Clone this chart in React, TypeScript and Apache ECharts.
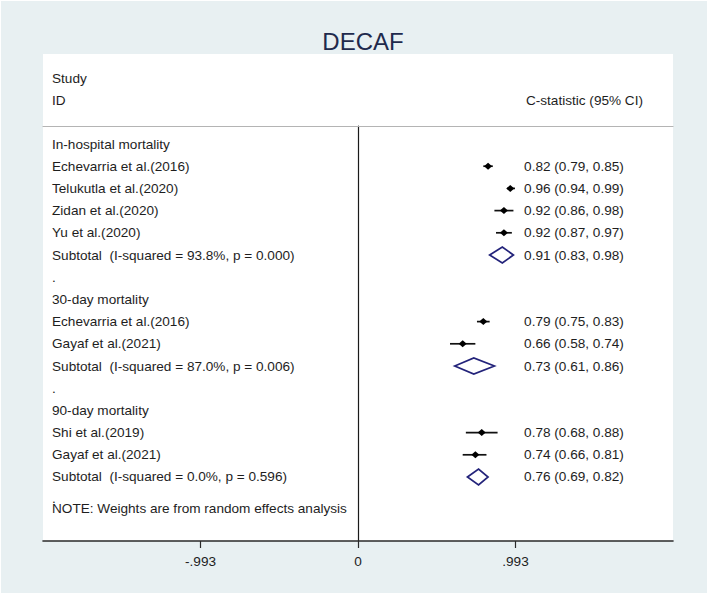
import React, { useEffect, useRef } from "react";
import * as echarts from "echarts";

// ---------- data ----------
const groupNames = ["In-hospital mortality", "30-day mortality", "90-day mortality"];
const groupRows = [1, 8, 13];

const studyNames = [
  "Echevarria et al.(2016)",
  "Telukutla et al.(2020)",
  "Zidan et al.(2020)",
  "Yu et al.(2020)",
  "Echevarria et al.(2016)",
  "Gayaf et al.(2021)",
  "Shi et al.(2019)",
  "Gayaf et al.(2021)",
];
const studyRows = [2, 3, 4, 5, 9, 10, 14, 15];
const studyEst = [0.82, 0.96, 0.92, 0.92, 0.79, 0.66, 0.78, 0.74];
const studyLo = [0.79, 0.94, 0.86, 0.87, 0.75, 0.58, 0.68, 0.66];
const studyHi = [0.85, 0.99, 0.98, 0.97, 0.83, 0.74, 0.88, 0.81];

const subtotalNames = [
  "Subtotal  (I-squared = 93.8%, p = 0.000)",
  "Subtotal  (I-squared = 87.0%, p = 0.006)",
  "Subtotal  (I-squared = 0.0%, p = 0.596)",
];
const subtotalRows = [6, 11, 16];
const subEst = [0.91, 0.73, 0.76];
const subLo = [0.83, 0.61, 0.69];
const subHi = [0.98, 0.86, 0.82];

const spacerRows = [7, 12, 16.95];
const noteText = "NOTE: Weights are from random effects analysis";
const noteRow = 17.4;

const xTicks = [-0.993, 0, 0.993];
const xMin = -1.986;
const xMax = 1.986;
const yMin = 0.189;
const yMax = 18.883;

// ---------- styles / layout ----------
const FONT = "'Liberation Sans', Arial, sans-serif";
const FS = 13.6;
const TEXT_COLOR = "#1e1e1e";
const BG = "#e8f0f2";
const NAVY = "#23237a";
const valueColX = 1.047;

const fmt2 = (v: number) => v.toFixed(2);
const tickFmt = (v: number) => {
  if (Math.abs(v) < 1e-9) return "0";
  return (v < 0 ? "-" : "") + Math.abs(v).toFixed(3).slice(1);
};

export default function App() {
  const ref = useRef<HTMLDivElement>(null);

  useEffect(() => {
    if (!ref.current) return;
    const chart = echarts.init(ref.current, undefined, { renderer: "svg" });

    // left-hand text rows
    const leftTexts: { row: number; text: string }[] = [];
    groupRows.forEach((r, i) => leftTexts.push({ row: r, text: groupNames[i] }));
    studyRows.forEach((r, i) => leftTexts.push({ row: r, text: studyNames[i] }));
    subtotalRows.forEach((r, i) => leftTexts.push({ row: r, text: subtotalNames[i] }));
    spacerRows.forEach((r) => leftTexts.push({ row: r, text: "." }));
    leftTexts.push({ row: noteRow, text: noteText });

    // right-hand value column
    const rightTexts: { row: number; text: string }[] = [];
    studyRows.forEach((r, i) =>
      rightTexts.push({ row: r, text: `${fmt2(studyEst[i])} (${fmt2(studyLo[i])}, ${fmt2(studyHi[i])})` })
    );
    subtotalRows.forEach((r, i) =>
      rightTexts.push({ row: r, text: `${fmt2(subEst[i])} (${fmt2(subLo[i])}, ${fmt2(subHi[i])})` })
    );

    const textStyle = { fontSize: FS, fontFamily: FONT, fill: TEXT_COLOR };

    const option: any = {
      animation: false,
      backgroundColor: "#ffffff",
      title: {
        text: "DECAF",
        left: 358,
        top: 24,
        textAlign: "center",
        textStyle: { fontSize: 24, fontWeight: "normal", color: "#1f2a4d", fontFamily: FONT },
      },
      graphic: [
        { type: "rect", z: -10, shape: { x: 1, y: 1, width: 706, height: 592 }, style: { fill: BG } },
        { type: "rect", z: -9, shape: { x: 43, y: 54, width: 630, height: 487 }, style: { fill: "#ffffff" } },
        { type: "text", x: 52, y: 78, style: { ...textStyle, text: "Study", textVerticalAlign: "middle" } },
        { type: "text", x: 52, y: 100, style: { ...textStyle, text: "ID", textVerticalAlign: "middle" } },
        {
          type: "text",
          x: 643,
          y: 100,
          style: { ...textStyle, text: "C-statistic (95% CI)", textAlign: "right", textVerticalAlign: "middle" },
        },
      ],
      grid: { left: 43, right: 36, top: 126, height: 415, containLabel: false },
      xAxis: [
        {
          type: "value",
          position: "bottom",
          min: xMin,
          max: xMax,
          interval: 0.993,
          axisLine: { show: true, lineStyle: { color: "#2a2a2a", width: 1.6 } },
          axisTick: { show: true, customValues: xTicks, length: 7, lineStyle: { color: "#2a2a2a", width: 1.2 } },
          axisLabel: {
            show: true,
            customValues: xTicks,
            formatter: tickFmt,
            fontSize: FS,
            fontFamily: FONT,
            color: TEXT_COLOR,
            margin: 13,
          },
          splitLine: { show: false },
        },
        {
          type: "value",
          position: "top",
          min: xMin,
          max: xMax,
          axisLine: { show: true, onZero: false, lineStyle: { color: "#b4b4b4", width: 1.2 } },
          axisTick: { show: false },
          axisLabel: { show: false },
          splitLine: { show: false },
        },
      ],
      yAxis: {
        type: "value",
        inverse: true,
        min: yMin,
        max: yMax,
        axisLine: { show: true, onZero: true, onZeroAxisIndex: 0, lineStyle: { color: "#1a1a1a", width: 1.2 } },
        axisTick: { show: false },
        axisLabel: { show: false },
        splitLine: { show: false },
      },
      series: [
        {
          type: "custom",
          name: "studies",
          xAxisIndex: 0,
          data: studyRows.map((r, i) => [studyEst[i], r, studyLo[i], studyHi[i]]),
          encode: { x: [0, 2, 3], y: 1 },
          renderItem: (params: any, api: any) => {
            const p = api.coord([api.value(0), api.value(1)]);
            const l = api.coord([api.value(2), api.value(1)]);
            const h = api.coord([api.value(3), api.value(1)]);
            return {
              type: "group",
              children: [
                {
                  type: "line",
                  shape: { x1: l[0], y1: p[1], x2: h[0], y2: p[1] },
                  style: { stroke: "#111", lineWidth: 1.7 },
                },
                {
                  type: "polygon",
                  shape: {
                    points: [
                      [p[0] - 4, p[1]],
                      [p[0], p[1] - 3.5],
                      [p[0] + 4, p[1]],
                      [p[0], p[1] + 3.5],
                    ],
                  },
                  style: { fill: "#000" },
                },
              ],
            };
          },
        },
        {
          type: "custom",
          name: "subtotals",
          xAxisIndex: 0,
          data: subtotalRows.map((r, i) => [subEst[i], r, subLo[i], subHi[i]]),
          encode: { x: [0, 2, 3], y: 1 },
          renderItem: (params: any, api: any) => {
            const p = api.coord([api.value(0), api.value(1)]);
            const l = api.coord([api.value(2), api.value(1)]);
            const h = api.coord([api.value(3), api.value(1)]);
            return {
              type: "polygon",
              shape: {
                points: [
                  [l[0], p[1]],
                  [p[0], p[1] - 8],
                  [h[0], p[1]],
                  [p[0], p[1] + 8],
                ],
              },
              style: { fill: "none", stroke: NAVY, lineWidth: 1.7 },
            };
          },
        },
        {
          type: "custom",
          name: "leftText",
          xAxisIndex: 0,
          data: leftTexts.map((t) => [xMin, t.row]),
          renderItem: (params: any, api: any) => {
            const p = api.coord([api.value(0), api.value(1)]);
            return {
              type: "text",
              x: p[0] + 9,
              y: p[1],
              style: { ...textStyle, text: leftTexts[params.dataIndex].text, textVerticalAlign: "middle" },
            };
          },
        },
        {
          type: "custom",
          name: "rightText",
          xAxisIndex: 0,
          data: rightTexts.map((t) => [valueColX, t.row]),
          renderItem: (params: any, api: any) => {
            const p = api.coord([api.value(0), api.value(1)]);
            return {
              type: "text",
              x: p[0],
              y: p[1],
              style: { ...textStyle, text: rightTexts[params.dataIndex].text, textVerticalAlign: "middle" },
            };
          },
        },
      ],
    };

    chart.setOption(option);
    return () => chart.dispose();
  }, []);

  return (
    <div
      ref={ref}
      style={{ position: "absolute", left: 0, top: 0, width: 709, height: 596 }}
    />
  );
}
